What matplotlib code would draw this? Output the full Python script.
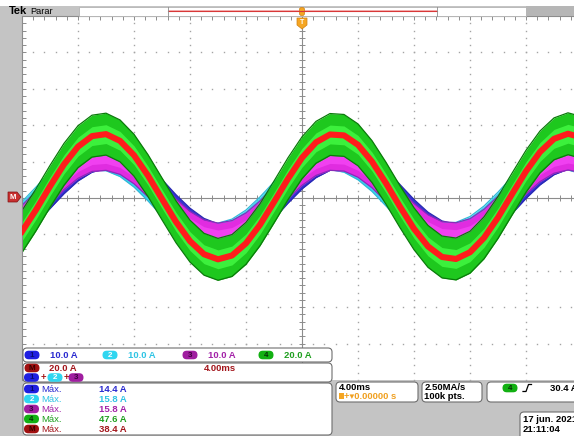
import matplotlib.pyplot as plt
from matplotlib.patches import FancyBboxPatch, Rectangle, Polygon
import numpy as np

plt.rcParams['font.family'] = ['Liberation Sans', 'DejaVu Sans']

# time base samples (ms), trigger at 0
t_ms = list(range(-20, 21))

# channel currents (A)
ch1_a = [-7.0, -3.5, 0.7, 4.8, 8.3, 10.7, 11.6, 11.0, 8.8, 5.5, 1.5, -2.7, -6.4, -9.2,
         -10.7, -10.5, -8.9, -5.9, -2.1, 2.2, 6.1, 9.2, 11.2, 11.5, 10.4, 7.8, 4.3, 0.1,
         -4.0, -7.5, -9.9, -10.8, -10.2, -8.0, -4.7, -0.7, 3.5, 7.2, 10.0, 11.5, 11.3]
ch2_a = [-4.8, -0.8, 3.4, 7.1, 9.9, 11.4, 11.3, 9.7, 6.8, 3.0, -1.2, -5.2, -8.3, -10.3,
         -10.7, -9.6, -7.1, -3.5, 0.6, 4.8, 8.2, 10.6, 11.6, 10.9, 8.8, 5.6, 1.6, -2.6,
         -6.3, -9.1, -10.6, -10.5, -8.9, -6.0, -2.2, 2.0, 6.0, 9.1, 11.1, 11.5, 10.4]
ch3_a = [-5.8, -2.0, 2.2, 6.1, 9.2, 11.1, 11.4, 10.3, 7.7, 4.1, 0.0, -4.1, -7.5, -9.8,
         -10.7, -10.0, -7.9, -4.6, -0.6, 3.6, 7.3, 10.0, 11.4, 11.2, 9.5, 6.6, 2.8, -1.4,
         -5.3, -8.4, -10.3, -10.6, -9.5, -6.9, -3.3, 0.8, 4.9, 8.3, 10.6, 11.5, 10.8]
ch4_a = [-18.4, -6.5, 6.4, 18.5, 28.2, 34.0, 35.1, 31.4, 23.5, 12.3, -0.5, -13.1, -23.7,
         -30.9, -33.7, -31.6, -24.9, -14.7, -2.2, 10.6, 22.1, 30.6, 34.9, 34.4, 29.2, 20.0,
         8.1, -4.8, -16.9, -26.6, -32.4, -33.5, -29.8, -21.9, -10.7, 2.1, 14.7, 25.3, 32.5,
         35.3, 33.2]
math_a = [-18.4, -6.5, 6.4, 18.5, 28.2, 34.0, 35.1, 31.4, 23.5, 12.3, -0.5, -13.1, -23.7,
          -30.9, -33.7, -31.6, -24.9, -14.7, -2.2, 10.6, 22.1, 30.6, 34.9, 34.4, 29.2, 20.0,
          8.1, -4.8, -16.9, -26.6, -32.4, -33.5, -29.8, -21.9, -10.7, 2.1, 14.7, 25.3, 32.5,
          35.3, 33.2]
noise_a = [3.6, 3.8, 3.8, 11.5]          # half width of the noisy trace, ch1..ch4

channels = ['1', '2', '3', '4']
amps_div = [10.0, 10.0, 10.0, 20.0]
math_div = 20.0
max_labels = ['1', '2', '3', '4', 'M']
max_values = [14.4, 15.8, 15.8, 47.6, 38.4]
time_div = '4.00ms'
trig_pos = '+\u25be0.00000 s'
sample_rate = '2.50MA/s'
record_len = '100k pts.'
trig_level = '30.4 A'
date_txt = '17 jun. 2021'
clock_txt = '21:11:04'

text_col = {'1': '#2b2bd0', '2': '#30c4e4', '3': '#a322a8', '4': '#1f9f1f', 'M': '#a3161c'}
badge_col = {'1': '#1f1fe0', '2': '#30d6f0', '3': '#a01ea0', '4': '#12b012', 'M': '#a01010'}
badge_txt = {'1': '#0a0a70', '2': 'white', '3': '#400040', '4': '#063006', 'M': '#3a0000'}

W, H = 574, 436
fig = plt.figure(figsize=(W / 100, H / 100), dpi=100, facecolor='#c4c4c4')


def frame(x0, y0, x1, y1):
    return [x0 / W, 1 - y1 / H, (x1 - x0) / W, (y1 - y0) / H]


# ---- graticule ----
sc = fig.add_axes(frame(22, 16, 582, 380), facecolor='white', zorder=1)
sc.set_xlim(-20, 20)
sc.set_ylim(-5, 5)
sc.set_xticks([])
sc.set_yticks([])
for k, s in sc.spines.items():
    s.set_visible(k in ('left', 'top'))
    s.set_color('#8c8c8c')
    s.set_linewidth(0.8)

gc = '#a4a4a4'
yy = np.arange(-5, 5.01, 0.2)
xx = np.arange(-20, 20.01, 0.8)
for x in range(-16, 20, 4):
    if x != 0:
        sc.plot(np.full_like(yy, x), yy, ls='none', marker='s', ms=1.0, mec='none', mfc=gc, zorder=1)
for y in range(-4, 5):
    if y != 0:
        sc.plot(xx, np.full_like(xx, y), ls='none', marker='s', ms=1.0, mec='none', mfc=gc, zorder=1)
sc.axhline(0, color='#8c8c8c', lw=0.8, zorder=1)
sc.axvline(0, color='#8c8c8c', lw=0.8, zorder=1)
sc.vlines(xx, -0.09, 0.09, color='#8c8c8c', lw=0.7, zorder=1)
sc.hlines(yy, -0.22, 0.22, color='#8c8c8c', lw=0.7, zorder=1)
sc.hlines(yy, -20, -19.75, color='#8c8c8c', lw=0.7, zorder=1)
sc.vlines(xx, 4.9, 5, color='#8c8c8c', lw=0.7, zorder=1)

# ---- traces ----
t = np.array(t_ms)
trace_style = [('#3434d8', '#2a2ab0'), ('#3ad4ee', '#30b8d8'), ('#e02ce0', '#8a2ab8'), ('#1ec81e', '#0a7a0a')]
for i, vals in enumerate([ch1_a, ch2_a, ch3_a, ch4_a]):
    c = np.array(vals) / amps_div[i]
    hw = noise_a[i] / amps_div[i]
    body, edge = trace_style[i]
    sc.fill_between(t, c - hw, c + hw, color=body, lw=0, zorder=2 + i * 0.1)
    sc.plot(t, c + hw, color=edge, lw=0.9, zorder=2 + i * 0.1)
    sc.plot(t, c - hw, color=edge, lw=0.9, zorder=2 + i * 0.1)
    if i == 2:
        sc.fill_between(t, c - hw * 0.5, c + hw * 0.5, color='#f040f0', lw=0, zorder=2.25)
    if i == 3:
        sc.fill_between(t, c - hw * 0.45, c + hw * 0.45, color='#3cf03c', lw=0, zorder=2.35)
sc.plot(t, np.array(math_a) / math_div, color='#ff1c1c', lw=4.4, zorder=3)

# ---- overlay: header, markers, readouts ----
ov = fig.add_axes([0, 0, 1, 1], zorder=3)
ov.set_xlim(0, W)
ov.set_ylim(H, 0)
ov.axis('off')
ov.patch.set_alpha(0)

ov.add_patch(Rectangle((0, 0), W, 6, fc='white', ec='none'))
ov.add_patch(Rectangle((79, 7), 447, 9, fc='white', ec='#b4b4b4', lw=0.6))
ov.add_patch(Rectangle((526, 6), 48, 10, fc='#b6b6b6', ec='none'))
ov.add_patch(Rectangle((168, 9.6), 269, 2.8, fc='#f4b4b4', ec='none'))
ov.plot([168, 437], [11, 11], color='#d83838', lw=0.8)
ov.plot([168, 168], [7, 16], color='#8c8c8c', lw=0.6)
ov.plot([437, 437], [7, 16], color='#8c8c8c', lw=0.6)
ov.text(9, 11.5, 'Tek', fontsize=8, fontweight='bold', va='center', ha='left')
ov.text(30, 11, 'Parar', fontsize=6.6, va='center', ha='left')

# trigger position markers
ov.add_patch(FancyBboxPatch((299.5, 7.5), 5, 8, boxstyle='round,pad=0,rounding_size=2', fc='#f5a623', ec='#d08010', lw=0.5))
ov.add_patch(Polygon([(297, 18), (307, 18), (307, 25), (302, 29), (297, 25)], fc='#f5a623', ec='#d08010', lw=0.5))
ov.text(302, 22.5, 'T', fontsize=5, fontweight='bold', color='white', ha='center', va='center')

# math reference marker
ov.add_patch(Polygon([(8, 192), (17, 192), (21, 197), (17, 202), (8, 202)], fc='#c83030', ec='#801010', lw=0.5))
ov.text(13, 197.3, 'M', fontsize=5.5, fontweight='bold', color='white', ha='center', va='center')


def panel(x0, y0, x1, y1):
    ov.add_patch(FancyBboxPatch((x0, y0), x1 - x0, y1 - y0, boxstyle='round,pad=0,rounding_size=4',
                                fc='white', ec='#6e6e6e', lw=0.8))


def badge(x, y, lab):
    ov.add_patch(FancyBboxPatch((x - 7.5, y - 4.3), 15, 8.6, boxstyle='round,pad=0,rounding_size=4.3',
                                fc=badge_col[lab], ec='none'))
    ov.text(x, y + 0.3, lab, fontsize=5.8, fontweight='bold', color=badge_txt[lab], ha='center', va='center')


fs = 6.8
panel(23, 348, 332, 362)
for lab, sc_a, bx in zip(channels, amps_div, [32, 110, 190, 266]):
    badge(bx, 355, lab)
    ov.text(bx + 18, 355.5, f'{sc_a:.1f} A', fontsize=fs, fontweight='bold', color=text_col[lab], va='center')

panel(23, 363, 332, 382)
badge(32, 368, 'M')
ov.text(49, 368.5, f'{math_div:.1f} A', fontsize=fs, fontweight='bold', color=text_col['M'], va='center')
ov.text(204, 368.5, time_div, fontsize=fs, fontweight='bold', color=text_col['M'], va='center')
badge(31.5, 377.5, '1')
ov.text(43, 377.5, '+', fontsize=fs, fontweight='bold', color='#a01010', ha='center', va='center')
badge(55, 377.5, '2')
ov.text(66, 377.5, '+', fontsize=fs, fontweight='bold', color='#a01010', ha='center', va='center')
badge(76, 377.5, '3')

panel(23, 383, 332, 435)
for k, (lab, v) in enumerate(zip(max_labels, max_values)):
    y = 389 + 10 * k
    badge(31.5, y, lab)
    ov.text(41, y + 0.5, 'Máx.', fontsize=fs, color=text_col[lab], va='center')
    ov.text(99, y + 0.5, f'{v:.1f} A', fontsize=fs, fontweight='bold', color=text_col[lab], va='center')

panel(336, 382, 418, 402)
ov.text(338.5, 387, time_div, fontsize=fs, fontweight='bold', va='center')
ov.add_patch(Rectangle((338.5, 392.5), 5, 6, fc='#f5a623', ec='none'))
ov.text(344.5, 396, trig_pos, fontsize=fs, fontweight='bold', color='#f0a020', va='center')

panel(422, 382, 482, 402)
ov.text(424.5, 387, sample_rate, fontsize=fs, fontweight='bold', va='center')
ov.text(424.5, 396, record_len, fontsize=fs, fontweight='bold', va='center')

panel(487, 382, 600, 402)
badge(510, 388, '4')
ov.plot([523, 526, 528.5, 531.5], [391.5, 391.5, 384.5, 384.5], color='black', lw=0.9)
ov.text(550, 388, trig_level, fontsize=fs, fontweight='bold', va='center')

panel(520, 412, 600, 445)
ov.text(523, 419.5, date_txt, fontsize=fs, fontweight='bold', va='center')
ov.text(523, 429, clock_txt, fontsize=fs, fontweight='bold', va='center')

fig.savefig('out.png', dpi=100, facecolor=fig.get_facecolor())
